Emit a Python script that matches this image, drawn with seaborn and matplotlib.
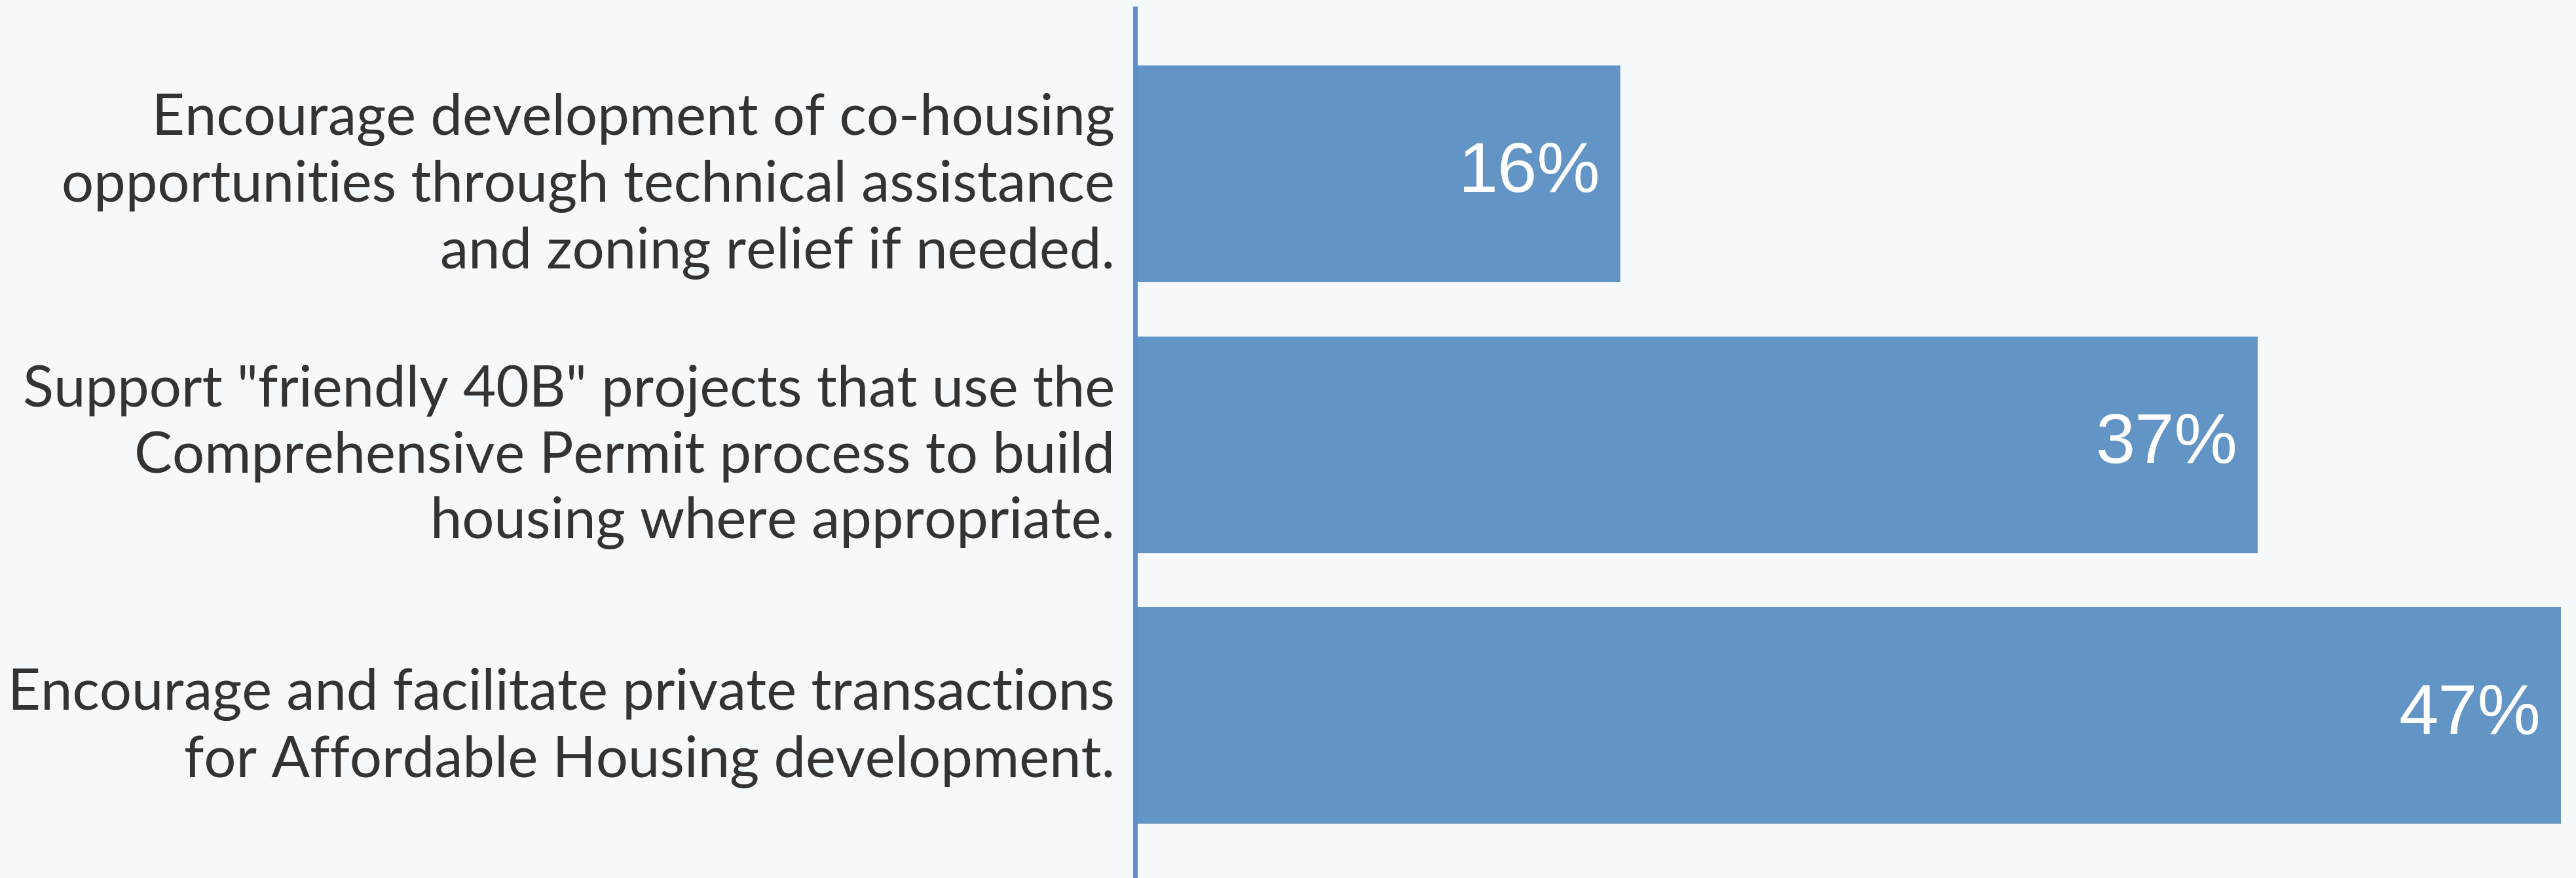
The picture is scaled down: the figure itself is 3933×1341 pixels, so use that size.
import matplotlib
matplotlib.use("Agg")
import matplotlib.pyplot as plt
import seaborn as sns
import pandas as pd

# Survey results: share of respondents supporting each housing strategy
strategies = [
    "Encourage development of co-housing\nopportunities through technical assistance\nand zoning relief if needed.",
    "Support \"friendly 40B\" projects that use the\nComprehensive Permit process to build\nhousing where appropriate.",
    "Encourage and facilitate private transactions\nfor Affordable Housing development.",
]
support_pct = [16, 37, 47]
value_labels = ["16%", "37%", "47%"]

BG = "#f6f9fc"
BAR = "#6394c6"
AXIS = "#5b8fc7"
TEXT = "#333333"

sns.set_theme(style="white")
plt.rcParams["font.family"] = ["Lato", "DejaVu Sans"]

df = pd.DataFrame({"strategy": strategies, "pct": support_pct})

fig = plt.figure(figsize=(39.33, 13.41), dpi=100, facecolor=BG)
ax = fig.add_axes([0.4406, 0.0, 0.5594, 1 - 13 / 1341])
ax.set_facecolor(BG)

sns.barplot(data=df, x="pct", y="strategy", orient="h", color=BAR,
            saturation=1, width=0.8, edgecolor="none", ax=ax)

ax.set_xlim(0, 47.5)
ax.set_ylim(2.6, -0.61)
ax.set_xlabel("")
ax.set_ylabel("")
ax.set_xticks([])

for side in ("top", "right", "bottom"):
    ax.spines[side].set_visible(False)
ax.spines["left"].set_color(AXIS)
ax.spines["left"].set_linewidth(5)

ax.tick_params(axis="y", length=0, pad=22, labelsize=62.5, labelcolor=TEXT)
for lbl in ax.get_yticklabels():
    lbl.set_linespacing(1.33)
    lbl.set_ha("right")
    lbl.set_multialignment("right")

texts = ax.bar_label(ax.containers[0], labels=value_labels, padding=-21.6,
                     color="white", fontsize=78,
                     family=["Liberation Sans", "DejaVu Sans"])
for t in texts:
    t.set_ha("right")

fig.savefig("out.png", dpi=100, facecolor=BG)
